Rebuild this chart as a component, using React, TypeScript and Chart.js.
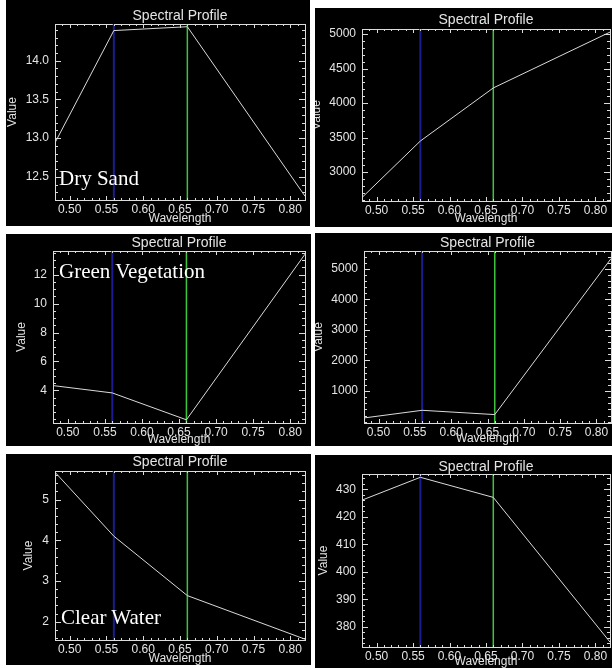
import { useEffect, useRef } from 'react';
import { Chart, registerables } from 'chart.js';

Chart.register(...registerables);

// ---------------- data ----------------
const WAVELENGTHS = [0.48, 0.56, 0.66, 0.82];
const BLUE_BAND = 0.56;
const GREEN_BAND = 0.66;
const X_RANGE = [0.48, 0.82];
const X_TICKS = [0.5, 0.55, 0.6, 0.65, 0.7, 0.75, 0.8];
const X_MINOR_STEP = 0.01;

const DRY_SAND_A = [12.94, 14.39, 14.44, 12.25];
const DRY_SAND_A_RANGE = [12.2, 14.475];
const DRY_SAND_A_TICKS = [12.5, 13.0, 13.5, 14.0];

const DRY_SAND_B = [2630, 3450, 4220, 5030];
const DRY_SAND_B_RANGE = [2580, 5075];
const DRY_SAND_B_TICKS = [3000, 3500, 4000, 4500, 5000];

const VEGETATION_A = [4.33, 3.82, 1.96, 13.42];
const VEGETATION_A_RANGE = [1.74, 13.64];
const VEGETATION_A_TICKS = [4, 6, 8, 10, 12];

const VEGETATION_B = [120, 370, 230, 5330];
const VEGETATION_B_RANGE = [-45, 5580];
const VEGETATION_B_TICKS = [1000, 2000, 3000, 4000, 5000];

const WATER_A = [5.67, 4.1, 2.64, 1.57];
const WATER_A_RANGE = [1.55, 5.7];
const WATER_A_TICKS = [2, 3, 4, 5];

const WATER_B = [426.1, 434.4, 427.1, 374.5];
const WATER_B_RANGE = [372.7, 435.6];
const WATER_B_TICKS = [380, 390, 400, 410, 420, 430];

const TITLE_TEXT = 'Spectral Profile';
const X_LABEL = 'Wavelength';
const Y_LABEL = 'Value';

// ---------------- styles ----------------
const TEXT = '#e4e4e4';
const AXIS = '#dcdcdc';
const LINE = '#dadada';
const BLUE = '#1c1c90';
const GREEN = '#3ec43e';
const TICK_FONT = { family: '"Liberation Sans", sans-serif', size: 12, lineHeight: 1 };
const LABEL_FONT = { family: '"Liberation Sans", sans-serif', size: 12, lineHeight: 1 };
const TITLE_FONT = { family: '"Liberation Sans", sans-serif', size: 14, lineHeight: 1 };
const SHIFT = 20;

type Spec = {
  values: number[];
  range: number[];
  yTicks: number[];
  yMinor: number;
  yDecimals: number;
  box: number[]; // left, top, width, height (page)
  plot: number[]; // left, top, right, bottom (page)
  valueX: number;
  titleY: number;
  xTitleY: number;
  label?: string;
  labelPos?: number[];
};

const PANELS: Spec[] = [
  {
    values: DRY_SAND_A, range: DRY_SAND_A_RANGE, yTicks: DRY_SAND_A_TICKS, yMinor: 0.1, yDecimals: 1,
    box: [6, 0, 304, 226], plot: [55, 24, 305, 200], valueX: 13, titleY: 16.5, xTitleY: 219,
    label: 'Dry Sand', labelPos: [59, 168],
  },
  {
    values: DRY_SAND_B, range: DRY_SAND_B_RANGE, yTicks: DRY_SAND_B_TICKS, yMinor: 100, yDecimals: 0,
    box: [315, 8, 297, 219], plot: [362, 29, 610, 201], valueX: 317, titleY: 20, xTitleY: 219,
  },
  {
    values: VEGETATION_A, range: VEGETATION_A_RANGE, yTicks: VEGETATION_A_TICKS, yMinor: 0.5, yDecimals: 0,
    box: [6, 234, 305, 212], plot: [53, 251, 305, 423], valueX: 22, titleY: 243.5, xTitleY: 440,
    label: 'Green Vegetation', labelPos: [59, 261],
  },
  {
    values: VEGETATION_B, range: VEGETATION_B_RANGE, yTicks: VEGETATION_B_TICKS, yMinor: 200, yDecimals: 0,
    box: [315, 233, 297, 213], plot: [364, 251, 611, 423], valueX: 319, titleY: 243.5, xTitleY: 439,
  },
  {
    values: WATER_A, range: WATER_A_RANGE, yTicks: WATER_A_TICKS, yMinor: 0.2, yDecimals: 0,
    box: [6, 454, 305, 211], plot: [55, 471, 305, 640], valueX: 29, titleY: 462, xTitleY: 659,
    label: 'Clear Water', labelPos: [61, 607],
  },
  {
    values: WATER_B, range: WATER_B_RANGE, yTicks: WATER_B_TICKS, yMinor: 2, yDecimals: 0,
    box: [315, 455, 297, 213], plot: [362, 474, 610, 647], valueX: 324, titleY: 467, xTitleY: 662,
  },
];

const inwardTicks = {
  id: 'inwardTicks',
  afterDatasetsDraw(chart: any, _args: any, opts: any) {
    const { ctx, chartArea: a, scales } = chart;
    const xs = scales.x;
    const ys = scales.y;
    ctx.save();
    ctx.strokeStyle = AXIS;
    ctx.lineWidth = 1;
    ctx.beginPath();
    const vx = (v: number, len: number) => {
      const p = Math.round(xs.getPixelForValue(v)) + 0.5;
      ctx.moveTo(p, a.bottom);
      ctx.lineTo(p, a.bottom - len);
      ctx.moveTo(p, a.top);
      ctx.lineTo(p, a.top + len);
    };
    const vy = (v: number, len: number) => {
      const p = Math.round(ys.getPixelForValue(v)) + 0.5;
      ctx.moveTo(a.left, p);
      ctx.lineTo(a.left + len, p);
      ctx.moveTo(a.right, p);
      ctx.lineTo(a.right - len, p);
    };
    const minors = (min: number, max: number, step: number) => {
      const out: number[] = [];
      const start = Math.ceil(min / step - 1e-6);
      const end = Math.floor(max / step + 1e-6);
      for (let k = start; k <= end; k++) out.push(k * step);
      return out;
    };
    minors(xs.min, xs.max, opts.xMinor).forEach((v) => vx(v, 2));
    xs.ticks.forEach((t: any) => vx(t.value, 4));
    minors(ys.min, ys.max, opts.yMinor).forEach((v) => vy(v, 3));
    ys.ticks.forEach((t: any) => vy(t.value, 6));
    ctx.stroke();
    ctx.restore();
  },
};

function zeroPad(sc: any) {
  sc.paddingLeft = 0;
  sc.paddingRight = 0;
  sc.paddingTop = 0;
  sc.paddingBottom = 0;
}

function buildConfig(s: Spec): any {
  const [bl, bt, bw, bh] = s.box;
  const [pl, pt, pr, pb] = s.plot;
  const canvasLeft = bl - SHIFT;
  const leftW = pl - canvasLeft;
  const rightW = bl + bw - pr;
  const topH = pt - bt;
  const bottomH = bt + bh - pb;
  const [yMin, yMax] = s.range;
  const noGrid = { display: false, drawTicks: false, tickLength: 0 };
  return {
    type: 'line',
    data: {
      datasets: [
        {
          data: WAVELENGTHS.map((x, i) => ({ x, y: s.values[i] })),
          borderColor: LINE, borderWidth: 1, pointRadius: 0, tension: 0, xAxisID: 'x', yAxisID: 'y',
        },
        {
          data: [{ x: BLUE_BAND, y: yMin }, { x: BLUE_BAND, y: yMax }],
          borderColor: BLUE, borderWidth: 2, pointRadius: 0, xAxisID: 'x', yAxisID: 'y',
        },
        {
          data: [{ x: GREEN_BAND, y: yMin }, { x: GREEN_BAND, y: yMax }],
          borderColor: GREEN, borderWidth: 1.5, pointRadius: 0, xAxisID: 'x', yAxisID: 'y',
        },
      ],
    },
    options: {
      responsive: false,
      animation: false,
      events: [],
      layout: { padding: 0 },
      plugins: {
        legend: { display: false },
        tooltip: { enabled: false },
        title: { display: false },
        inwardTicks: { xMinor: X_MINOR_STEP, yMinor: s.yMinor },
      },
      scales: {
        x: {
          type: 'linear', position: 'bottom', min: X_RANGE[0], max: X_RANGE[1],
          afterBuildTicks: (sc: any) => { sc.ticks = X_TICKS.map((v) => ({ value: v })); },
          afterFit: (sc: any) => { sc.height = bottomH; zeroPad(sc); },
          grid: noGrid,
          border: { display: true, color: AXIS, width: 1 },
          ticks: {
            color: TEXT, font: TICK_FONT, padding: 4, maxRotation: 0, autoSkip: false,
            callback: (v: any) => Number(v).toFixed(2),
          },
          title: {
            display: true, text: X_LABEL, color: TEXT, font: LABEL_FONT,
            padding: { top: 0, bottom: Math.max(0, bt + bh - s.xTitleY - LABEL_FONT.size / 2) },
          },
        },
        x2: {
          type: 'linear', position: 'top', min: X_RANGE[0], max: X_RANGE[1],
          afterFit: (sc: any) => { sc.height = topH; zeroPad(sc); },
          grid: noGrid,
          border: { display: true, color: AXIS, width: 1 },
          ticks: { display: false },
          title: {
            display: true, text: TITLE_TEXT, color: TEXT, font: TITLE_FONT,
            padding: { top: Math.max(0, s.titleY - bt - TITLE_FONT.size / 2), bottom: 0 },
          },
        },
        y: {
          type: 'linear', position: 'left', min: yMin, max: yMax,
          afterBuildTicks: (sc: any) => { sc.ticks = s.yTicks.map((v) => ({ value: v })); },
          afterFit: (sc: any) => { sc.width = leftW; zeroPad(sc); },
          grid: noGrid,
          border: { display: true, color: AXIS, width: 1 },
          ticks: {
            color: TEXT, font: TICK_FONT, padding: 6,
            callback: (v: any) => Number(v).toFixed(s.yDecimals),
          },
          title: {
            display: true, text: Y_LABEL, color: TEXT, font: LABEL_FONT,
            padding: { top: s.valueX - canvasLeft - LABEL_FONT.size / 2, bottom: 0 },
          },
        },
        y2: {
          type: 'linear', position: 'right', min: yMin, max: yMax,
          afterFit: (sc: any) => { sc.width = rightW; zeroPad(sc); },
          grid: noGrid,
          border: { display: true, color: AXIS, width: 1 },
          ticks: { display: false },
        },
      },
    },
    plugins: [inwardTicks],
  };
}

function Panel({ spec }: { spec: Spec }) {
  const ref = useRef<HTMLCanvasElement>(null);
  useEffect(() => {
    if (!ref.current) return;
    const chart = new Chart(ref.current, buildConfig(spec));
    return () => chart.destroy();
  }, [spec]);
  const [bl, bt, bw, bh] = spec.box;
  return (
    <div
      style={{
        position: 'absolute', left: bl, top: bt, width: bw, height: bh,
        background: '#000', overflow: 'hidden',
      }}
    >
      <div style={{ position: 'absolute', left: -SHIFT, top: 0, width: bw + SHIFT, height: bh }}>
        <canvas ref={ref} width={bw + SHIFT} height={bh} style={{ display: 'block' }} />
      </div>
      {spec.label && spec.labelPos ? (
        <div
          style={{
            position: 'absolute', left: spec.labelPos[0] - bl, top: spec.labelPos[1] - bt,
            font: '21px "Liberation Serif", "Times New Roman", serif', lineHeight: '21px',
            color: '#ffffff', whiteSpace: 'nowrap',
          }}
        >
          {spec.label}
        </div>
      ) : null}
    </div>
  );
}

export default function App() {
  return (
    <div style={{ position: 'absolute', left: 0, top: 0, width: 612, height: 668, background: '#fff', overflow: 'hidden' }}>
      {PANELS.map((p, i) => (
        <Panel key={i} spec={p} />
      ))}
    </div>
  );
}
